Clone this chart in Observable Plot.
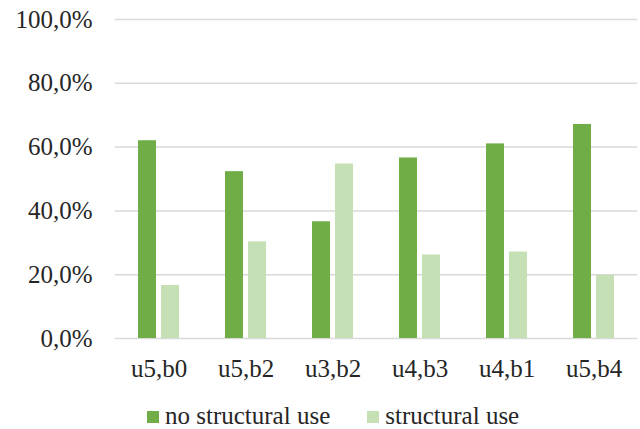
<!DOCTYPE html>
<html>
<head>
<meta charset="utf-8">
<script src="https://cdn.jsdelivr.net/npm/d3@7"></script>
<script src="https://cdn.jsdelivr.net/npm/@observablehq/plot@0.6"></script>
<style>
  html, body { margin: 0; padding: 0; background: #fff; }
  body { position: relative; width: 640px; height: 429px; overflow: hidden; font-family: "Liberation Serif", "Times New Roman", serif; }
  #chart svg { display: block; }
  #legend { position: absolute; left: 147px; top: 402px; display: flex; align-items: center; font-size: 25px; line-height: 28px; color: #262626; }
  .item { display: flex; align-items: center; margin-right: 37px; }
  .sw { width: 12px; height: 12px; margin-right: 6px; position: relative; top: 1px; }
  svg text { font-family: "Liberation Serif", "Times New Roman", serif; }
</style>
</head>
<body>
<div id="chart"></div>
<div id="legend"></div>
<script>
const categories = ["u5,b0", "u5,b2", "u3,b2", "u4,b3", "u4,b1", "u5,b4"];
const series = ["no structural use", "structural use"];
const noStructural = [62.0, 52.3, 36.6, 56.6, 61.0, 67.1];
const structural = [16.6, 30.3, 54.7, 26.2, 27.1, 19.8];
const yTicks = [0, 20, 40, 60, 80, 100];
const colors = ["#70AD47", "#C5E0B4"];

const data = categories.flatMap((c, i) => [
  {category: c, series: series[0], value: noStructural[i]},
  {category: c, series: series[1], value: structural[i]}
]);

const fmt = d => d.toFixed(1).replace(".", ",") + "%";
const padIn = 0.529, padOut = 0.2645;
const plotW = 640 - 115 - 3;
const step = plotW / (categories.length - padIn + 2 * padOut);
const ext = -padOut * step;

const chart = Plot.plot({
  width: 640,
  height: 390,
  marginLeft: 115,
  marginRight: 3,
  marginTop: 19,
  marginBottom: 52,
  style: {fontFamily: "'Liberation Serif', 'Times New Roman', serif", fontSize: "25px", color: "#262626", background: "#fff"},
  fx: {domain: categories, paddingInner: padIn, paddingOuter: padOut, label: null},
  x: {domain: series, paddingInner: 0.22, paddingOuter: 0, axis: null},
  y: {domain: [0, 100], ticks: yTicks, tickFormat: fmt, label: null},
  color: {domain: series, range: colors},
  marks: [
    Plot.ruleY(yTicks, {stroke: "#d9d9d9", strokeWidth: 1.5, insetLeft: ext, insetRight: ext}),
    Plot.barY(data, {fx: "category", x: "series", y: "value", fill: "series"}),
    Plot.axisY({ticks: yTicks, tickFormat: fmt, tickSize: 0, tickPadding: 23 - ext, fontSize: 25, label: null}),
    Plot.axisFx({anchor: "bottom", tickSize: 0, tickPadding: 21, fontSize: 25, label: null})
  ]
});
document.getElementById("chart").appendChild(chart);

const legend = document.getElementById("legend");
series.forEach((s, i) => {
  const item = document.createElement("div");
  item.className = "item";
  const sw = document.createElement("div");
  sw.className = "sw";
  sw.style.background = colors[i];
  const t = document.createElement("span");
  t.textContent = s;
  item.appendChild(sw);
  item.appendChild(t);
  legend.appendChild(item);
});
</script>
</body>
</html>
